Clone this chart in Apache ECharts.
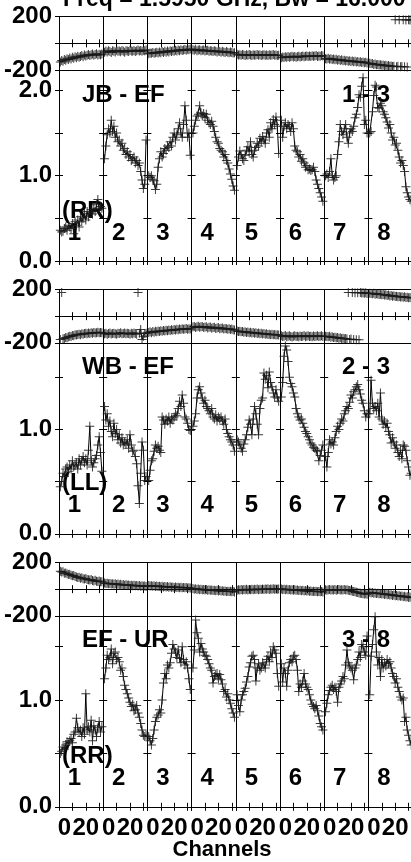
<!DOCTYPE html>
<html><head><meta charset="utf-8">
<script src="https://cdn.jsdelivr.net/npm/echarts@6/dist/echarts.min.js"></script>
<style>html,body{margin:0;padding:0;background:#fff;overflow:hidden}#c{width:411px;height:862px}</style>
</head><body><div id="c"></div>
<script>
// ---------------- data ----------------
const titleText = 'Freq = 1.5950 GHz, Bw = 16.000 MHz';
const ifNames = ['1','2','3','4','5','6','7','8'];
const channels = [1,2,3,4,5,6,7,8,9,10,11,12,13,14,15,16,17,18,19,20,21,22,23,24,25,26,27,28,29,30,31,32];
const baselines = ['JB - EF','WB - EF','EF - UR'];
const stokes = ['(RR)','(LL)','(RR)'];
const sourceTags = ['1 - 3','2 - 3','3 - 8'];
const ampMax = [2.24, 1.83, 1.79];
const phaseRange = [-200, 200];
const xTickLabels = [0, 20];
const xTitle = 'Channels';

// amplitudes, per IF (32 channels)
const amp_JB_EF = [
 [0.36,0.34,0.35,0.38,0.40,0.36,0.42,0.40,0.38,0.44,0.32,0.46,0.42,0.48,0.40,0.52,0.46,0.50,0.55,0.48,0.58,0.52,0.56,0.60,0.55,0.62,0.58,0.66,0.72,0.60,0.64,0.62],
 [1.20,1.35,1.48,1.55,1.50,1.65,1.52,1.58,1.45,1.50,1.40,1.42,1.35,1.38,1.30,1.32,1.25,1.28,1.22,1.25,1.18,1.20,1.22,1.15,1.18,1.12,1.15,1.05,0.95,0.85,0.90,1.42],
 [1.00,0.98,1.00,0.96,0.94,0.84,0.90,1.10,1.20,1.28,1.22,1.26,1.32,1.30,1.35,1.33,1.40,1.35,1.45,1.50,1.42,1.48,1.55,1.62,1.50,1.45,1.60,1.82,1.65,1.45,1.50,1.24],
 [1.50,1.58,1.65,1.70,1.72,1.82,1.74,1.70,1.73,1.68,1.72,1.65,1.62,1.60,1.64,1.58,1.52,1.45,1.40,1.38,1.32,1.30,1.28,1.22,1.25,1.18,1.15,1.08,1.02,0.96,0.88,0.83],
 [1.12,1.22,1.29,1.25,1.20,1.18,1.24,1.30,1.34,1.28,1.40,1.25,1.22,1.30,1.33,1.38,1.35,1.44,1.40,1.46,1.42,1.38,1.50,1.54,1.45,1.62,1.55,1.66,1.60,1.69,1.58,1.26],
 [1.65,1.45,1.58,1.62,1.55,1.60,1.58,1.52,1.62,1.55,1.35,1.30,1.28,1.22,1.25,1.17,1.20,1.15,1.10,1.12,1.07,1.08,1.06,1.07,1.10,1.05,0.95,0.90,0.85,0.80,0.75,0.70],
 [1.00,1.02,0.98,1.05,1.20,1.00,0.95,0.98,1.00,1.25,1.40,1.60,1.52,1.48,1.55,1.60,1.45,1.38,1.50,1.55,1.52,1.58,1.68,1.72,1.80,1.95,1.92,2.05,2.15,1.60,1.65,1.50],
 [1.50,1.52,1.75,1.94,2.06,2.04,1.80,1.79,1.85,1.82,1.75,1.72,1.68,1.63,1.56,1.60,1.50,1.42,1.45,1.36,1.38,1.30,1.22,1.15,1.18,1.12,1.05,0.87,0.80,0.75,0.72,0.70]
];
const amp_WB_EF = [
 [0.45,0.50,0.58,0.55,0.62,0.64,0.60,0.66,0.62,0.70,0.64,0.66,0.68,0.62,0.72,0.66,0.70,0.74,0.68,0.72,0.66,0.80,1.03,0.70,0.64,0.68,0.72,0.75,0.85,0.93,0.78,0.60],
 [1.22,1.09,1.15,1.03,1.08,0.98,0.93,1.06,0.96,1.00,0.90,0.95,0.87,0.92,0.85,0.88,0.86,0.90,0.82,0.95,0.85,0.79,0.80,0.74,0.67,0.46,0.29,0.58,0.88,0.80,0.51,0.55],
 [0.51,0.61,0.70,0.72,0.79,0.85,0.82,0.84,0.80,0.78,1.12,1.09,1.05,1.10,1.08,1.12,1.06,1.10,1.09,1.12,1.15,1.13,1.20,1.27,1.22,1.33,1.25,1.12,1.10,1.06,1.00,0.99],
 [1.03,1.08,1.15,1.30,1.38,1.41,1.35,1.30,1.25,1.28,1.22,1.20,1.18,1.15,1.20,1.12,1.10,1.14,1.08,1.12,1.10,1.12,1.08,1.05,1.10,1.00,0.96,0.93,0.90,0.88,0.85,0.79],
 [0.90,0.88,0.85,0.82,0.79,0.86,0.90,0.95,1.02,1.09,1.05,0.95,1.10,1.22,1.15,1.05,0.95,1.20,1.28,1.30,1.54,1.48,1.52,1.40,1.55,1.45,1.41,1.35,1.31,1.38,1.30,1.27],
 [1.31,1.45,1.70,1.80,1.76,1.65,1.50,1.44,1.41,1.35,1.31,1.20,1.15,1.12,1.09,1.10,1.06,1.02,0.98,0.96,0.93,0.90,0.87,0.85,0.83,0.82,0.80,0.79,0.70,0.75,0.80,0.85],
 [0.74,0.64,0.78,0.90,0.86,0.88,0.85,0.92,0.98,1.03,1.00,1.06,1.10,1.08,1.15,1.18,1.22,1.20,1.26,1.33,1.30,1.36,1.38,1.41,1.43,1.38,1.34,1.28,1.25,1.18,1.12,1.15],
 [1.15,1.47,1.25,1.20,1.22,1.18,1.25,1.12,1.35,1.10,1.05,1.08,1.02,1.06,0.98,0.95,0.87,0.92,0.88,0.82,0.85,0.78,0.74,0.80,0.72,0.85,0.84,0.80,0.70,0.64,0.56,0.58]
];
const amp_EF_UR = [
 [0.50,0.52,0.56,0.54,0.58,0.61,0.59,0.62,0.64,0.60,0.68,0.70,0.83,0.74,0.70,0.72,0.66,0.74,0.68,1.06,0.72,0.75,0.70,0.81,0.62,0.76,0.72,0.66,0.74,0.80,0.70,0.75],
 [1.20,1.30,1.42,1.38,1.40,1.48,1.34,1.44,1.45,1.38,1.40,1.36,1.28,1.30,1.22,1.14,1.10,1.06,1.02,0.98,0.94,0.96,0.90,0.91,0.95,0.88,0.84,0.78,0.72,0.67,0.66,0.67],
 [0.66,0.62,0.58,0.64,0.72,0.80,0.84,0.86,0.91,0.88,1.00,1.16,1.25,1.20,1.33,1.30,1.35,1.44,1.52,1.48,1.45,1.40,1.47,1.39,1.35,1.50,1.38,1.33,1.36,1.30,1.20,1.10],
 [1.30,1.47,1.75,1.63,1.58,1.45,1.53,1.48,1.45,1.42,1.41,1.38,1.34,1.30,1.28,1.16,1.22,1.23,1.25,1.20,1.24,1.19,1.15,1.08,1.10,1.03,1.06,1.00,0.97,0.92,0.88,0.84],
 [1.05,0.95,0.89,1.00,1.05,1.08,1.11,1.17,1.22,1.31,1.35,1.41,1.42,1.38,1.18,1.30,1.34,1.28,1.30,1.35,1.33,1.30,1.38,1.41,1.36,1.45,1.40,1.50,1.47,1.44,1.25,1.13],
 [1.34,1.17,1.30,1.25,1.13,1.28,1.35,1.38,1.36,1.41,1.42,1.38,1.28,1.08,1.15,1.12,1.18,1.25,1.15,1.12,1.10,1.05,1.00,0.96,0.94,0.92,0.95,0.90,0.85,0.78,0.75,0.72],
 [0.89,0.97,1.05,1.09,1.12,1.14,1.10,1.12,1.08,0.98,1.12,1.15,1.18,1.22,1.20,1.33,1.47,1.35,1.32,1.30,1.28,1.19,1.30,1.33,1.38,1.45,1.40,1.52,1.50,1.45,1.42,1.60],
 [1.05,1.41,1.52,1.66,1.78,1.45,1.33,1.40,1.22,1.38,1.30,1.35,1.32,1.38,1.34,1.36,1.30,1.25,1.22,1.16,1.20,1.12,1.08,1.03,1.00,1.02,0.80,0.84,0.72,0.67,0.62,0.58]
];

// phases (degrees), per IF
const phase_JB_EF = [
 [-140,-128,-135,-122,-126,-115,-122,-110,-118,-105,-112,-100,-108,-96,-104,-98,-92,-100,-88,-95,-90,-84,-92,-86,-80,-90,-84,-78,-88,-82,-86,-80],
 [-66,-58,-64,-55,-62,-68,-56,-60,-65,-52,-60,-58,-63,-54,-60,-66,-55,-58,-62,-52,-58,-60,-54,-62,-56,-50,-58,-54,-60,-52,-56,-50],
 [-78,-72,-75,-68,-74,-70,-66,-72,-64,-70,-62,-68,-60,-66,-58,-64,-56,-62,-55,-60,-52,-58,-50,-56,-48,-54,-50,-46,-52,-44,-48,-42],
 [-48,-52,-45,-55,-50,-48,-56,-52,-50,-58,-54,-52,-60,-55,-58,-62,-56,-60,-64,-58,-62,-66,-60,-64,-68,-62,-66,-70,-64,-68,-72,-70],
 [-82,-88,-85,-90,-84,-88,-92,-86,-90,-84,-88,-92,-86,-90,-88,-84,-90,-86,-92,-88,-85,-90,-88,-92,-86,-90,-88,-84,-90,-88,-92,-90],
 [-108,-102,-106,-100,-105,-98,-104,-100,-96,-102,-98,-104,-100,-96,-102,-98,-95,-100,-97,-94,-99,-95,-98,-93,-97,-95,-92,-98,-94,-96,-92,-95],
 [-115,-118,-112,-120,-116,-122,-118,-124,-120,-126,-122,-128,-124,-130,-126,-132,-128,-134,-130,-136,-132,-138,-134,-140,-136,-142,-138,-144,-140,-146,-142,-148],
 [-150,-154,-152,-158,-155,-160,-158,-162,-160,-165,-162,-168,-165,-170,-167,-172,-170,-174,-172,178,-175,-172,177,-176,-174,178,-176,176,-178,178,176,177]
];
const phase_WB_EF = [
 [-175,178,-170,-168,-160,-162,-155,-150,-152,-145,-148,-140,-142,-138,-135,-140,-132,-135,-130,-128,-133,-126,-130,-125,-128,-122,-126,-125,-120,-124,-122,-125],
 [-132,-128,-135,-130,-126,-134,-130,-128,-132,-136,-128,-130,-125,-133,-130,-127,-132,-128,-130,-135,-128,-132,-126,-130,-135,178,-128,-100,-175,-150,-130,-128],
 [-122,-118,-124,-116,-120,-114,-118,-112,-116,-110,-114,-108,-112,-106,-110,-104,-108,-102,-106,-100,-104,-98,-102,-96,-100,-94,-98,-96,-92,-98,-94,-96],
 [-82,-78,-85,-80,-76,-84,-80,-78,-86,-82,-80,-88,-84,-82,-90,-86,-84,-92,-88,-86,-94,-90,-88,-96,-92,-94,-98,-95,-100,-97,-102,-104],
 [-112,-116,-114,-118,-115,-120,-117,-122,-119,-124,-121,-126,-123,-128,-125,-130,-127,-132,-129,-134,-131,-136,-133,-137,-135,-139,-136,-140,-138,-141,-139,-142],
 [-148,-152,-150,-146,-154,-150,-148,-152,-156,-150,-147,-153,-150,-155,-149,-152,-150,-146,-154,-151,-148,-153,-150,-155,-149,-152,-150,-147,-153,-150,-148,-152],
 [-150,-152,-155,-150,-158,-155,-160,-158,-162,-160,-165,-162,-168,-165,-170,-168,-172,178,-175,-172,178,-176,175,-178,176,-178,178,174,176,172,175,170],
 [172,170,168,172,165,168,166,162,165,160,163,158,160,155,158,152,155,150,153,148,150,146,148,144,146,142,145,140,142,138,140,136]
];
const phase_EF_UR = [
 [135,128,130,120,122,115,110,112,105,100,102,95,92,88,90,82,85,78,76,80,72,70,68,72,65,62,66,60,58,62,56,55],
 [46,42,44,40,43,38,41,36,40,35,38,33,36,32,35,30,33,29,32,28,30,26,29,25,28,24,27,22,25,21,24,20],
 [28,24,26,22,25,20,24,19,22,18,21,17,20,16,19,15,18,14,17,13,16,12,15,11,14,10,13,10,12,9,11,8],
 [4,0,3,-2,2,-4,0,-5,-2,-6,-3,-8,-5,-9,-6,-10,-8,-12,-9,-13,-11,-14,-12,-16,-14,-17,-15,-18,-16,-20,-18,-21],
 [-8,-4,-6,-2,-7,-3,-5,-1,-6,-2,-4,0,-5,-1,-3,1,-4,0,-2,2,-3,1,-1,3,-2,2,0,3,-1,2,0,1],
 [2,-2,0,-4,-1,-5,-3,-6,-4,-8,-5,-9,-7,-10,-8,-12,-9,-13,-11,-14,-12,-16,-13,-17,-15,-18,-16,-19,-17,-20,-18,-21],
 [-4,-8,-5,-2,-7,-4,-6,-3,-8,-5,-2,-6,-4,-7,-3,-6,-5,-8,-10,-12,-15,-18,-20,-23,-26,-28,-30,-32,-34,-36,-35,-38],
 [-24,-28,-26,-30,-28,-33,-30,-35,-32,-37,-35,-40,-37,-42,-39,-44,-42,-47,-44,-49,-47,-52,-49,-54,-52,-57,-54,-59,-57,-62,-59,-64]
];

const ampData = [amp_JB_EF, amp_WB_EF, amp_EF_UR];
const phaseData = [phase_JB_EF, phase_WB_EF, phase_EF_UR];

// ---------------- layout / style ----------------
const FONT = '"Liberation Sans", Arial, Helvetica, sans-serif';
const LEFT = 59, IFW = 44.2, PH_H = 53.3, AMP_H = 191;
const panelTop = [16.7, 289.5, 562.5];
const PLUS = 'path://M4,0H5V4H9V5H5V9H4V5H0V4H4Z';
const axLine = {show: true, lineStyle: {color: '#000', width: 1}};
const tick = {show: true, inside: true, length: 4, lineStyle: {color: '#000', width: 1}};
const lblFont = {fontFamily: FONT, fontSize: 24, fontWeight: 'bold', color: '#000'};

const chart = echarts.init(document.getElementById('c'), null, {renderer: 'canvas'});
const grids = [], xAxes = [], yAxes = [], series = [];

function mkX(g, pos, showLabel) {
  return {gridIndex: g, type: 'value', min: 0, max: 33, interval: 10, position: pos,
    axisLine: axLine, axisTick: tick, splitLine: {show: false},
    axisLabel: {show: showLabel, margin: 10, ...lblFont, showMinLabel: true, showMaxLabel: false,
      rich: {z: {...lblFont, padding: [0, 0, 0, 11]}},
      formatter: v => v === xTickLabels[0] ? '{z|' + v + '}' : (xTickLabels.indexOf(v) >= 0 ? String(v) : '')}};
}
function mkY(g, pos, kind, p, showLabel, split) {
  const isPh = kind === 'phase';
  return {gridIndex: g, type: 'value', position: pos,
    min: isPh ? phaseRange[0] : 0, max: isPh ? phaseRange[1] : ampMax[p],
    interval: isPh ? 200 : 0.5,
    axisLine: axLine, axisTick: tick,
    splitLine: {show: !!split, lineStyle: {color: '#000', width: 1}},
    axisLabel: {show: showLabel, margin: 7, ...lblFont, showMinLabel: true, showMaxLabel: true,
      formatter: v => isPh ? (v === 0 ? '' : String(v))
                           : (Math.abs(v - Math.round(v)) < 1e-9 ? v.toFixed(1) : '')}};
}
function buildData(vals, isPh) {
  const out = [];
  vals.forEach((v, k) => {
    if (isPh && k > 0 && Math.abs(v - vals[k - 1]) > 180) out.push([channels[k] - 0.5, '-']);
    out.push([channels[k], v]);
  });
  return out;
}

baselines.forEach((bl, p) => {
  for (let i = 0; i < ifNames.length; i++) {
    ['phase', 'amp'].forEach((kind, k) => {
      const top = panelTop[p] + (k ? PH_H : 0);
      const h = k ? AMP_H : PH_H;
      const g = grids.length;
      grids.push({left: LEFT + i * IFW, top: top, width: IFW, height: h, outerBoundsMode: 'none', containLabel: false});
      const xi = xAxes.length;
      xAxes.push(mkX(g, 'bottom', p === 2 && k === 1), mkX(g, 'top', false));
      const yi = yAxes.length;
      yAxes.push(mkY(g, 'left', kind, p, i === 0, kind === 'phase'), mkY(g, 'right', kind, p, false, false));
      const vals = (k ? ampData : phaseData)[p][i];
      series.push({type: 'line', xAxisIndex: xi, yAxisIndex: yi,
        data: buildData(vals, kind === 'phase'),
        symbol: PLUS, symbolSize: 9, showSymbol: true, showAllSymbol: true,
        connectNulls: false, clip: true, silent: true,
        itemStyle: {color: '#1a1a1a', opacity: 0.85},
        lineStyle: {color: '#000', width: 1}});
    });
  }
});

// text overlays
const gtext = (x, y, text, align, size) => ({type: 'text', x: x, y: y, silent: true,
  style: {text: text, x: 0, y: 0, align: align || 'left', verticalAlign: 'middle',
    font: 'bold ' + (size || 24) + 'px ' + FONT, fill: '#000'}});
const graphics = [];
graphics.push(gtext(63, 0, titleText, 'left', 23));
graphics.push(gtext(222, 850, xTitle, 'center', 22));
baselines.forEach((bl, p) => {
  const aTop = panelTop[p] + PH_H, aBot = aTop + AMP_H;
  graphics.push(gtext(82, aTop + 25, bl, 'left'));
  graphics.push(gtext(366, aTop + 25, sourceTags[p], 'center'));
  graphics.push(gtext(62, aBot - 50, stokes[p], 'left'));
  ifNames.forEach((n, i) => graphics.push(gtext(LEFT + i * IFW + 15.5, aBot - 28, n, 'center')));
});

chart.setOption({
  animation: false,
  backgroundColor: '#fff',
  grid: grids, xAxis: xAxes, yAxis: yAxes, series: series,
  graphic: graphics
});
</script></body></html>
